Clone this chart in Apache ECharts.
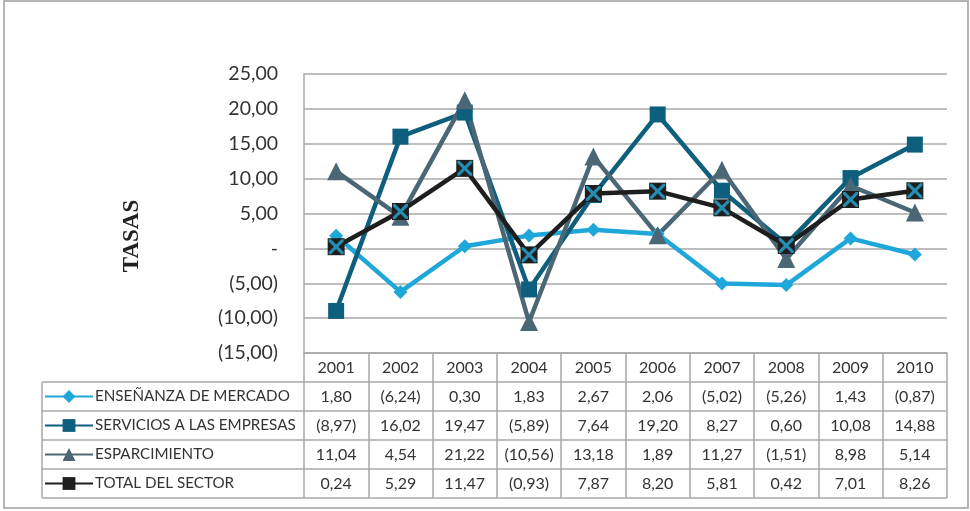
<!DOCTYPE html>
<html>
<head>
<meta charset="utf-8">
<script src="https://cdn.jsdelivr.net/npm/echarts@6/dist/echarts.min.js"></script>
<style>
  html, body { margin: 0; padding: 0; background: #fff; }
  #main { width: 970px; height: 511px; }
</style>
</head>
<body>
<div id="main"></div>
<script>
// datos del gráfico
var years = ['2001', '2002', '2003', '2004', '2005', '2006', '2007', '2008', '2009', '2010'];
var seriesNames = ['ENSEÑANZA DE MERCADO', 'SERVICIOS A LAS EMPRESAS', 'ESPARCIMIENTO', 'TOTAL DEL SECTOR'];
var ensenanza = [1.80, -6.24, 0.30, 1.83, 2.67, 2.06, -5.02, -5.26, 1.43, -0.87];
var servicios = [-8.97, 16.02, 19.47, -5.89, 7.64, 19.20, 8.27, 0.60, 10.08, 14.88];
var esparcimiento = [11.04, 4.54, 21.22, -10.56, 13.18, 1.89, 11.27, -1.51, 8.98, 5.14];
var total = [0.24, 5.29, 11.47, -0.93, 7.87, 8.20, 5.81, 0.42, 7.01, 8.26];
var yMin = -15, yMax = 25, yStep = 5;

var colors = ['#1ea7d8', '#0d5f7d', '#4b6776', '#1e1e1e'];
var gridColor = '#a8a8a8';
var font = 'Lato';

// formato contable: negativos entre paréntesis, cero como guion
function fmt(v) {
    if (v === 0) return '-';
    var s = Math.abs(v).toFixed(2).replace('.', ',');
    return v < 0 ? '(' + s + ')' : s;
}

var W = 970, H = 511;
var gridLeft = 304, gridRight = 23, gridTop = 74, gridBottom = 158;
var rowH = 29;
var tableTop = H - gridBottom;   // y del eje x
var legendLeft = 42;

var xPath = 'path://M0,0L3,0L10,7L17,0L20,0L20,3L13,10L20,17L20,20L17,20L10,13L3,20L0,20L0,17L7,10L0,3Z';

function tableAxis(idx, data) {
    return {
        type: 'category',
        gridIndex: 0,
        position: 'bottom',
        offset: rowH * idx,
        data: data,
        boundaryGap: true,
        axisLine: { show: idx === 0, onZero: false, lineStyle: { color: gridColor, width: 1.5 } },
        axisTick: { show: true, interval: 0, length: rowH, lineStyle: { color: gridColor, width: 1.5 } },
        axisLabel: {
            show: true, interval: 0, margin: 7,
            fontFamily: font, fontSize: 16, color: '#333'
        },
        splitLine: { show: false }
    };
}

var xAxes = [
    tableAxis(0, years),
    tableAxis(1, ensenanza.map(fmt)),
    tableAxis(2, servicios.map(fmt)),
    tableAxis(3, esparcimiento.map(fmt)),
    tableAxis(4, total.map(fmt))
];

// líneas horizontales de la tabla y borde izquierdo
var tableLines = [];
for (var r = 1; r <= 5; r++) {
    tableLines.push({
        type: 'line',
        shape: { x1: legendLeft, y1: tableTop + rowH * r, x2: W - gridRight, y2: tableTop + rowH * r },
        style: { stroke: gridColor, lineWidth: 1.5 }
    });
}
tableLines.push({
    type: 'line',
    shape: { x1: legendLeft, y1: tableTop + rowH, x2: legendLeft, y2: tableTop + rowH * 5 },
    style: { stroke: gridColor, lineWidth: 1.5 }
});

var myChart = echarts.init(document.getElementById('main'));
var option = {
    backgroundColor: '#fff',
    animation: false,
    color: colors,
    grid: { left: gridLeft, right: gridRight, top: gridTop, bottom: gridBottom },
    legend: {
        orient: 'vertical',
        left: legendLeft + 2,
        top: tableTop + rowH + 6.5,
        padding: 0,
        itemWidth: 48,
        itemHeight: 16,
        itemGap: rowH - 16,
        textStyle: { fontFamily: font, fontSize: 15.2, color: '#333', lineHeight: 16, padding: [0, 0, 0, -3] },
        data: seriesNames
    },
    xAxis: xAxes,
    yAxis: {
        type: 'value',
        min: yMin, max: yMax, interval: yStep,
        axisLine: { show: true, lineStyle: { color: gridColor, width: 1.5 } },
        axisTick: { show: false },
        axisLabel: {
            margin: 26, fontFamily: font, fontSize: 19.5, color: '#333',
            formatter: function (v) { return fmt(v); }
        },
        splitLine: { lineStyle: { color: gridColor, width: 1.5 } }
    },
    series: [{
        name: seriesNames[0], type: 'line', data: ensenanza,
        symbol: 'diamond', symbolSize: 14,
        lineStyle: { width: 4.5, color: colors[0] }, itemStyle: { color: colors[0] }
    }, {
        name: seriesNames[1], type: 'line', data: servicios,
        symbol: 'rect', symbolSize: 16,
        lineStyle: { width: 4.5, color: colors[1] }, itemStyle: { color: colors[1] }
    }, {
        name: seriesNames[2], type: 'line', data: esparcimiento,
        symbol: 'triangle', symbolSize: 18,
        lineStyle: { width: 4.5, color: colors[2] }, itemStyle: { color: colors[2] }
    }, {
        name: seriesNames[3], type: 'line', data: total,
        symbol: 'rect', symbolSize: 17,
        lineStyle: { width: 4.5, color: colors[3] }, itemStyle: { color: colors[3] }
    }, {
        // la X celeste encima del cuadrado negro
        name: seriesNames[3], type: 'scatter', data: total,
        symbol: xPath, symbolSize: 15,
        itemStyle: { color: '#27a9d6' }, z: 5
    }],
    graphic: [{
        type: 'rect',
        shape: { x: 4, y: 1, width: 964, height: 507 },
        style: { fill: 'none', stroke: '#b5b5b5', lineWidth: 2 }
    }, {
        type: 'text',
        x: 132, y: 236, rotation: Math.PI / 2,
        style: {
            text: 'TASAS', fontFamily: 'Liberation Serif', fontWeight: 'bold', fontSize: 23,
            fill: '#222', align: 'center', verticalAlign: 'middle'
        }
    }].concat(tableLines)
};
myChart.setOption(option);
window.onresize = function () {
    myChart.resize();
};
</script>
</body>
</html>
